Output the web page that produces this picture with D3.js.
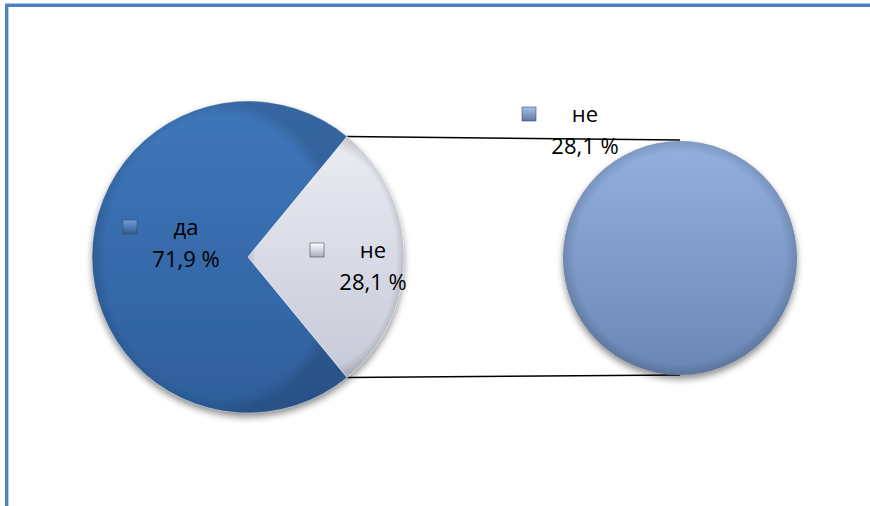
<!DOCTYPE html>
<html>
<head>
<meta charset="utf-8">
<script src="https://cdn.jsdelivr.net/npm/d3@7"></script>
<style>
  html, body { margin: 0; padding: 0; background: #fff; }
  svg { display: block; }
  text { font-family: "Open Sans", "Noto Sans", sans-serif; fill: #000; }
</style>
</head>
<body>
<svg id="chart" width="870" height="506"></svg>
<script>
// ---- data ----
const categories = ["да", "не"];
const values = [71.9, 28.1];           // percent, main pie
const secondCategories = ["не"];        // split-off pie
const secondValues = [28.1];
const valueLabels = ["71,9 %", "28,1 %"];
const secondValueLabels = ["28,1 %"];

// ---- layout ----
const W = 870, H = 506;
const svg = d3.select("#chart");
const defs = svg.append("defs");

// frame (cropped chart area border: top and left only)
svg.append("line").attr("x1", 5).attr("x2", W).attr("y1", 3.5).attr("y2", 3.5)
  .attr("stroke", "#a7bfe2").attr("stroke-width", 1);
svg.append("line").attr("x1", 5).attr("x2", W).attr("y1", 5.5).attr("y2", 5.5)
  .attr("stroke", "#4f81bd").attr("stroke-width", 3);
svg.append("line").attr("x1", 6.5).attr("x2", 6.5).attr("y1", 4).attr("y2", H)
  .attr("stroke", "#4f81bd").attr("stroke-width", 3);
svg.append("line").attr("x1", 8.5).attr("x2", 8.5).attr("y1", 7).attr("y2", H)
  .attr("stroke", "#b9cdea").attr("stroke-width", 1);

// gradients
function vGrad(id, c1, c2) {
  const g = defs.append("linearGradient").attr("id", id)
    .attr("x1", 0).attr("y1", 0).attr("x2", 0).attr("y2", 1);
  g.append("stop").attr("offset", "0%").attr("stop-color", c1);
  g.append("stop").attr("offset", "100%").attr("stop-color", c2);
}
vGrad("gDa", "#3f77bb", "#2e5e9b");
vGrad("gNe", "#eaecf3", "#c6cad7");
vGrad("gNe2", "#93b1e0", "#6a86b5");

// shadow filter
const f = defs.append("filter").attr("id", "shadow")
  .attr("x", "-20%").attr("y", "-20%").attr("width", "140%").attr("height", "140%");
f.append("feGaussianBlur").attr("in", "SourceAlpha").attr("stdDeviation", 3.5).attr("result", "b");
f.append("feOffset").attr("in", "b").attr("dx", 0).attr("dy", 4).attr("result", "o");
f.append("feComponentTransfer").attr("in", "o").attr("result", "o2")
  .append("feFuncA").attr("type", "linear").attr("slope", 0.45);
const fm = f.append("feMerge");
fm.append("feMergeNode").attr("in", "o2");
fm.append("feMergeNode").attr("in", "SourceGraphic");

// main pie geometry
const c1 = { x: 248, y: 257 }, r1 = 156;
const c2 = { x: 680, y: 258 }, r2 = 117;

const total = d3.sum(values);
const splitIdx = 1; // "не" goes to second pie
const splitAngle = values[splitIdx] / total * 2 * Math.PI;
const start = Math.PI / 2 - splitAngle / 2;

const pieData = categories.map((c, i) => ({ name: c, value: values[i], label: valueLabels[i], idx: i }));
const pie = d3.pie().value(d => d.value).sort(null)
  .startAngle(start + splitAngle - 2 * Math.PI).endAngle(start + splitAngle);
const arcs = pie(pieData);
const arc1 = d3.arc().innerRadius(0).outerRadius(r1);

const fills = ["url(#gDa)", "url(#gNe)"];

// connector lines (drawn under pies)
function polar(c, r, a) { return [c.x + r * Math.sin(a), c.y - r * Math.cos(a)]; }
const pTop = polar(c1, r1, start), pBot = polar(c1, r1, start + splitAngle);
svg.append("line").attr("x1", pTop[0]).attr("y1", pTop[1])
  .attr("x2", c2.x).attr("y2", c2.y - r2 - 1).attr("stroke", "#000").attr("stroke-width", 1.5);
svg.append("line").attr("x1", pBot[0]).attr("y1", pBot[1])
  .attr("x2", c2.x).attr("y2", c2.y + r2).attr("stroke", "#000").attr("stroke-width", 1.5);

// main pie
const g1 = svg.append("g").attr("transform", `translate(${c1.x},${c1.y})`);
g1.append("g").attr("filter", "url(#shadow)")
  .selectAll("path").data(arcs).join("path")
  .attr("d", arc1).attr("fill", (d, i) => fills[i]);
// bevel overlay
const bev = defs.append("radialGradient").attr("id", "bev1");
bev.append("stop").attr("offset", "90%").attr("stop-color", "#000").attr("stop-opacity", 0);
bev.append("stop").attr("offset", "100%").attr("stop-color", "#000").attr("stop-opacity", 0.14);
g1.selectAll("path.bev").data(arcs).join("path").attr("class", "bev")
  .attr("d", arc1).attr("fill", "url(#bev1)").attr("stroke", "rgba(255,255,255,0.35)").attr("stroke-width", 1);

// second pie
const pie2 = d3.pie().value(d => d).sort(null);
const arcs2 = pie2(secondValues);
const arc2 = d3.arc().innerRadius(0).outerRadius(r2);
const g2 = svg.append("g").attr("transform", `translate(${c2.x},${c2.y})`);
g2.append("g").attr("filter", "url(#shadow)")
  .selectAll("path").data(arcs2).join("path")
  .attr("d", arc2)
  .attr("fill", "url(#gNe2)");
g2.append("circle").attr("r", r2).attr("fill", "url(#bev1)");

// legend-key square gradients
vGrad("kDa", "#6f9fd9", "#2d5a92");
vGrad("kNe", "#ffffff", "#a9adb8");
vGrad("kNe2", "#a9c1e6", "#5f78a6");

// labels
function label(x, y, keyFill, name, val) {
  const g = svg.append("g").attr("transform", `translate(${x},${y})`);
  g.append("rect").attr("x", -63).attr("y", -15).attr("width", 14).attr("height", 14)
    .attr("fill", keyFill).attr("stroke", "#3d4f6a").attr("stroke-width", 0.6);
  g.append("text").attr("x", 0).attr("y", 0).attr("text-anchor", "middle")
    .attr("font-size", 22).text(name);
  g.append("text").attr("x", 0).attr("y", 32).attr("text-anchor", "middle")
    .attr("font-size", 22).text(val);
}
const keyFills = ["url(#kDa)", "url(#kNe)"];
const labelPos = [[186, 235], [373, 258]];
arcs.forEach((a, i) => label(labelPos[i][0], labelPos[i][1], keyFills[i], a.data.name, a.data.label));
label(c2.x - 95, c2.y - 136, "url(#kNe2)", secondCategories[0], secondValueLabels[0]);
</script>
</body>
</html>
